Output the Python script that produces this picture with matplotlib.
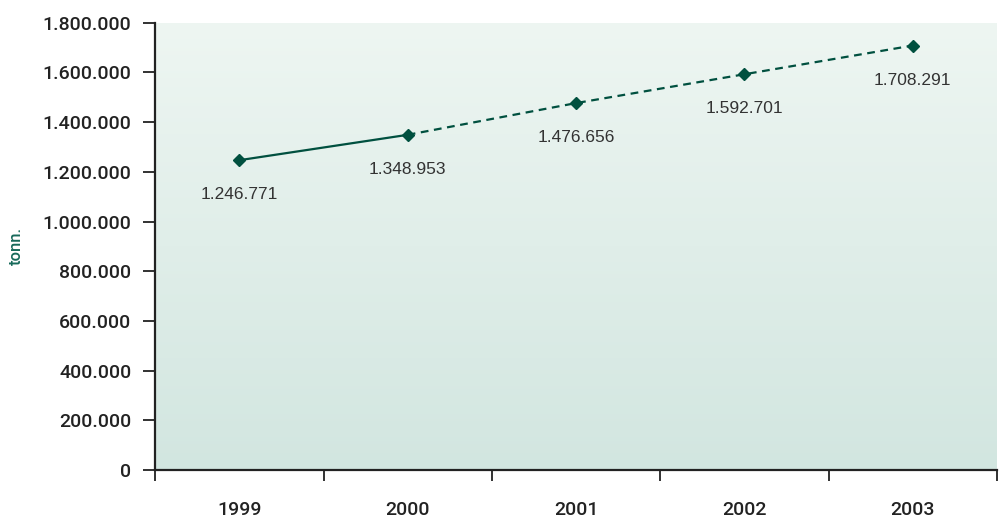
import numpy as np
import matplotlib.pyplot as plt
from matplotlib.colors import LinearSegmentedColormap
from matplotlib.ticker import FuncFormatter

# Produzione annua (tonn.), 1999-2000 consuntivo, 2001-2003 previsione
anni = ['1999', '2000', '2001', '2002', '2003']
tonnellate = [1246771, 1348953, 1476656, 1592701, 1708291]
n_consuntivo = 2

verde = '#00503f'
plt.rcParams['font.family'] = ['Roboto', 'DejaVu Sans']

fig = plt.figure(figsize=(10.01, 5.17), dpi=100)
ax = fig.add_axes([0.155, 0.091, 0.841, 0.865])

x = np.arange(len(anni))
ax.set_xlim(-0.5, len(anni) - 0.5)
ax.set_ylim(0, 1800000)

# sfondo sfumato verde chiaro
sfondo = LinearSegmentedColormap.from_list('sfondo', ['#d2e6e0', '#eef6f2'])
grad = np.linspace(0, 1, 256).reshape(-1, 1)
ax.imshow(grad, cmap=sfondo, aspect='auto', origin='lower',
          extent=[0, 1, 0, 1], transform=ax.transAxes, zorder=0)

# tratto consuntivo pieno, previsione tratteggiata
ax.plot(x[:n_consuntivo], tonnellate[:n_consuntivo], color=verde, lw=1.6, zorder=3)
ax.plot(x[n_consuntivo - 1:], tonnellate[n_consuntivo - 1:], color=verde, lw=1.6,
        ls=(0, (3.5, 2.5)), zorder=3)
ax.plot(x, tonnellate, ls='none', marker='D', ms=6, color=verde, zorder=4)

for xi, v in zip(x, tonnellate):
    ax.annotate(f'{v:,}'.replace(',', '.'), (xi, v), xytext=(0, -25),
                textcoords='offset points', ha='center', va='center',
                fontsize=12.5, color='#333333', family='Liberation Sans')

fmt = FuncFormatter(lambda v, p: f'{int(v):,}'.replace(',', '.'))
ax.yaxis.set_major_formatter(fmt)
ax.set_yticks(np.arange(0, 1800001, 200000))

ax.set_xticks(np.arange(-0.5, len(anni)), labels=[''] * (len(anni) + 1))
ax.set_xticks(x, labels=anni, minor=True)
ax.tick_params(axis='x', which='major', length=8, width=1.3, color='#222222')
ax.tick_params(axis='x', which='minor', length=0, pad=22, labelsize=14,
               labelcolor='#222222')
ax.tick_params(axis='y', length=9, width=1.3, color='#222222', pad=8,
               labelsize=14, labelcolor='#222222')
for lab in ax.get_yticklabels() + ax.get_xticklabels(minor=True):
    lab.set_fontweight('medium')

for s in ['top', 'right']:
    ax.spines[s].set_visible(False)
for s in ['left', 'bottom']:
    ax.spines[s].set_linewidth(1.6)
    ax.spines[s].set_color('#222222')

fig.text(0.016, 0.525, 'tonn.', rotation=90, ha='center', va='center',
         fontsize=12, fontweight='medium', color='#17695a')

fig.savefig('out.png', dpi=100)
